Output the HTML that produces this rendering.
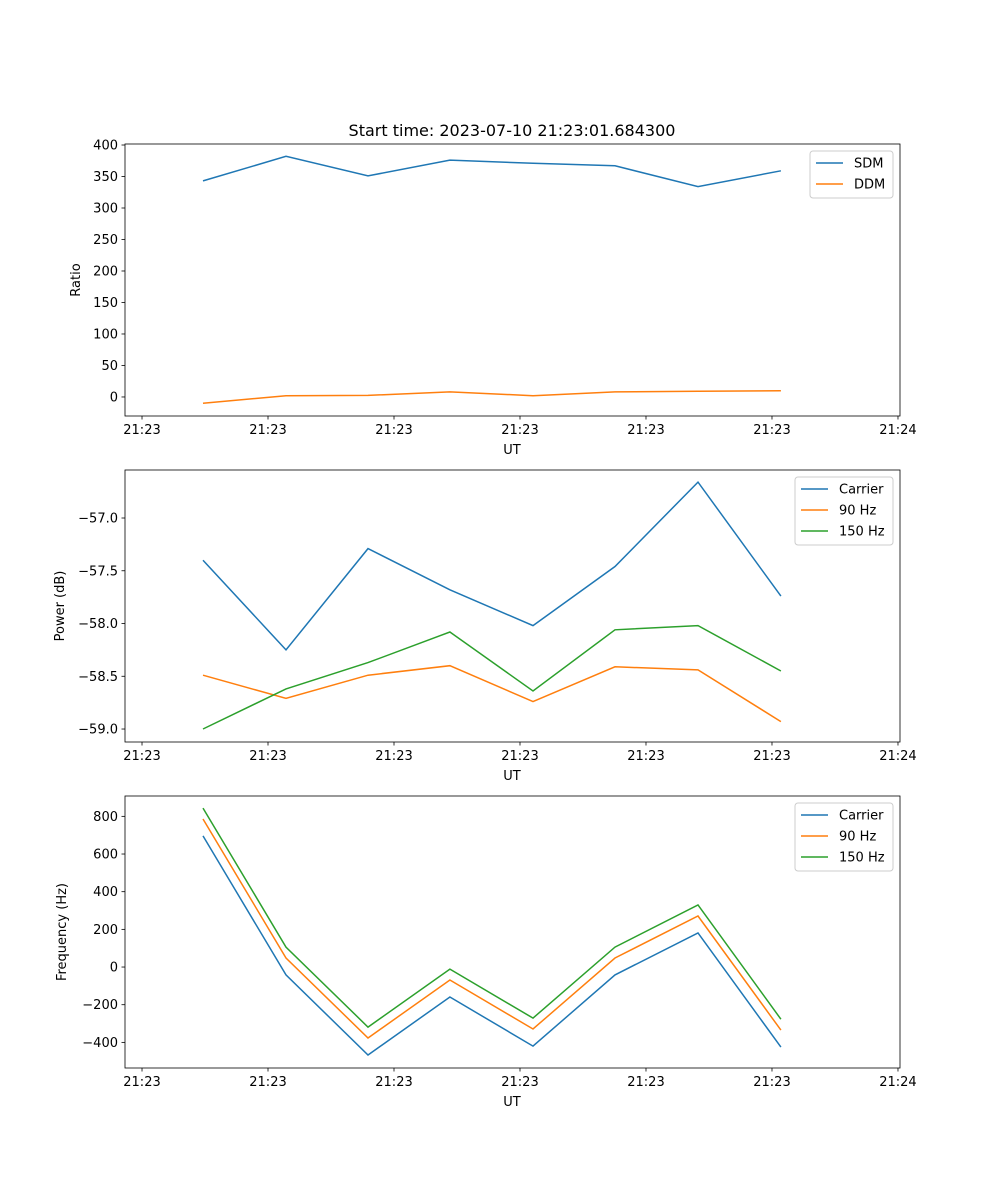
<!DOCTYPE html>
<html><head><meta charset="utf-8"><style>
body{margin:0;background:#fff;}
svg{display:block;font-family:"DejaVu Sans","Liberation Sans",sans-serif;}
</style></head><body>
<svg id="chart" width="1000" height="1200" viewBox="0 0 1000 1200" xmlns="http://www.w3.org/2000/svg"></svg>
<script>
const times = [4.84, 11.43, 17.94, 24.44, 31.03, 37.54, 44.13, 50.71];
const xTickValues = [0, 10, 20, 30, 40, 50, 60];
const xTickLabels = ["21:23","21:23","21:23","21:23","21:23","21:23","21:24"];
const sdm = [343, 382, 351, 376, 371, 367, 334, 359];
const ddm = [-10, 2, 2.5, 8, 2, 8, 9, 10];
const powCarrier = [-57.40, -58.25, -57.29, -57.68, -58.02, -57.46, -56.66, -57.74];
const pow90 = [-58.49, -58.71, -58.49, -58.40, -58.74, -58.41, -58.44, -58.93];
const pow150 = [-59.0, -58.62, -58.37, -58.08, -58.64, -58.06, -58.02, -58.45];
const freqCarrier = [696, -42, -467, -159, -420, -42, 181, -425];
const freq90 = [786, 48, -377, -69, -329, 48, 271, -335];
const freq150 = [844, 106, -319, -11, -271, 106, 330, -277];
const ratioTicks = [0,50,100,150,200,250,300,350,400];
const powerTicks = [-59.0,-58.5,-58.0,-57.5,-57.0];
const freqTicks = [-400,-200,0,200,400,600,800];

const svg = document.getElementById('chart');
const NS = 'http://www.w3.org/2000/svg';
function mk(tag, attrs, parent){const e=document.createElementNS(NS,tag);for(const k in attrs)e.setAttribute(k,attrs[k]);(parent||svg).appendChild(e);return e;}
const X0=125,X1=900, xMin=-1.35, xMax=60.16;
const xs = v => X0 + (v-xMin)/(xMax-xMin)*(X1-X0);
const blue='#1f77b4',orange='#ff7f0e',green='#2ca02c';

function panel(name, top, yMin, yMax, yTicks, fmt, ylabel, series, legendW){
  const bottom=top+272;
  const ys = v => bottom - (v-yMin)/(yMax-yMin)*272;
  const g = mk('g',{});
  
  
  series.forEach(s=>{
    const pts = s.vals.map((v,i)=>xs(times[i]).toFixed(1)+','+ys(v).toFixed(1)).join(' ');
    const pl = mk('polyline',{points:pts,fill:'none',stroke:s.color,'stroke-width':1.5},g);
    
    
  });
  const fr = mk('rect',{x:X0,y:top,width:X1-X0,height:272,fill:'none',stroke:'#000','stroke-width':0.8},g);
  
  
  xTickValues.forEach((v,i)=>{
    const x=xs(v);
    mk('line',{x1:x,x2:x,y1:bottom,y2:bottom+3.5,stroke:'#000','stroke-width':0.8},g);
    const t=mk('text',{x:x,y:bottom+18,'font-size':13,'text-anchor':'middle'},g);
    t.textContent=xTickLabels[i];
    
    
  });
  yTicks.forEach(v=>{
    const y=ys(v);
    mk('line',{x1:X0-3.5,x2:X0,y1:y,y2:y,stroke:'#000','stroke-width':0.8},g);
    const t=mk('text',{x:X0-7,y:y+4.5,'font-size':13,'text-anchor':'end'},g);
    t.textContent=fmt(v);
    
    
  });
  const xl=mk('text',{x:512,y:bottom+38,'font-size':13,'text-anchor':'middle'},g);
  xl.textContent='UT';
  
  
  const lx = ylabel.x, ly=top+136;
  const yl=mk('text',{x:lx,y:ly,'font-size':13,'text-anchor':'middle',transform:`rotate(-90 ${lx} ${ly})`},g);
  yl.textContent=ylabel.text;
  
  
  // legend
  const lg=mk('g',{},g);
  
  
  const lxr=893, lxl=lxr-legendW, lyt=top+7, lh=21*series.length+5;
  mk('rect',{x:lxl,y:lyt,width:legendW,height:lh,rx:3,fill:'#fff','fill-opacity':0.8,stroke:'#ccc','stroke-width':1},lg);
  series.forEach((s,i)=>{
    const y=lyt+12+i*21;
    mk('line',{x1:lxl+6,x2:lxl+33,y1:y,y2:y,stroke:s.color,'stroke-width':1.5},lg);
    const t=mk('text',{x:lxl+44,y:y+4.5,'font-size':13},lg);
    t.textContent=s.label;
    
    
  });
}
const title=mk('text',{x:512,y:136,'font-size':16,'text-anchor':'middle'});
title.textContent='Start time: 2023-07-10 21:23:01.684300';



panel('ratio-panel',144,-30.2,401.6,ratioTicks,v=>String(v),{x:80,text:'Ratio'},
  [{key:'sdm',label:'SDM',vals:sdm,color:blue},{key:'ddm',label:'DDM',vals:ddm,color:orange}],83);
panel('power-panel',470,-59.123,-56.545,powerTicks,v=>'\u2212'+Math.abs(v).toFixed(1),{x:64,text:'Power (dB)'},
  [{key:'carrier',label:'Carrier',vals:powCarrier,color:blue},{key:'90hz',label:'90 Hz',vals:pow90,color:orange},{key:'150hz',label:'150 Hz',vals:pow150,color:green}],98);
panel('frequency-panel',796,-536,908,freqTicks,v=>(v<0?'\u2212':'')+Math.abs(v),{x:66,text:'Frequency (Hz)'},
  [{key:'carrier',label:'Carrier',vals:freqCarrier,color:blue},{key:'90hz',label:'90 Hz',vals:freq90,color:orange},{key:'150hz',label:'150 Hz',vals:freq150,color:green}],98);
</script>
</body></html>
